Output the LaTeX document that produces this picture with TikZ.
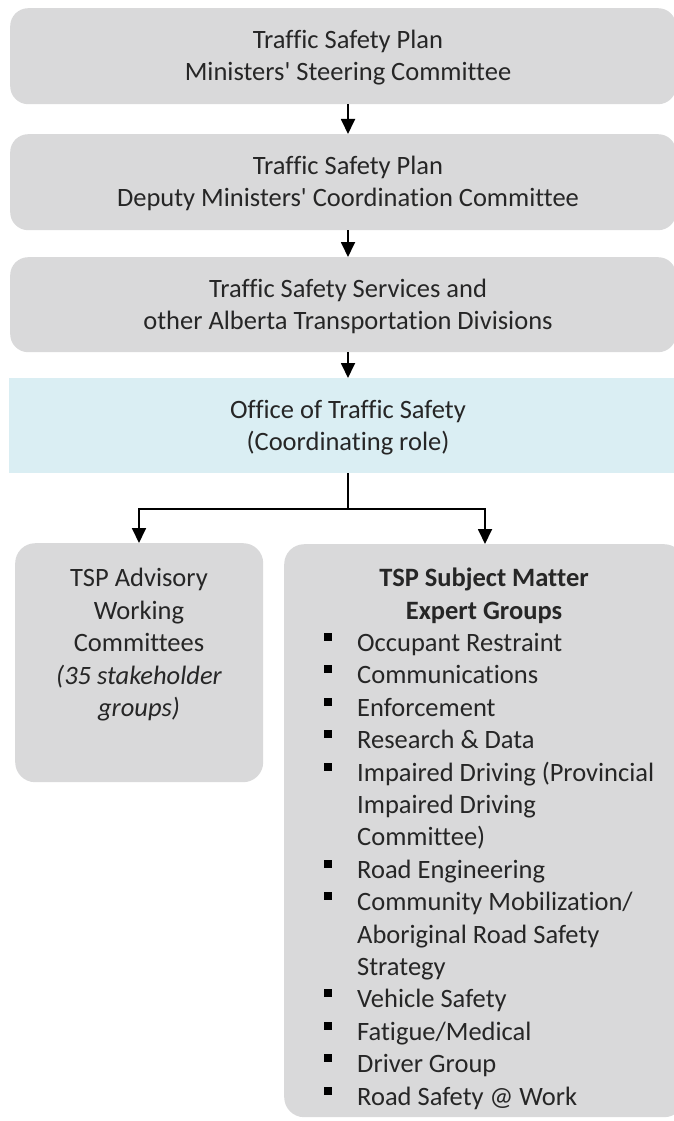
\documentclass[tikz,border=0pt]{standalone}
\usepackage{fontspec}
\defaultfontfeatures{}
\defaultfontfeatures[\rmfamily]{}
\setmainfont{Carlito}[Ligatures=NoCommon]
\usetikzlibrary{arrows.meta}
\definecolor{boxgray}{HTML}{D9D9DA}
\definecolor{boxblue}{HTML}{DAEEF3}
\definecolor{ink}{HTML}{262626}
\begin{document}
\begin{tikzpicture}[x=1pt,y=-1pt,
  graybox/.style={fill=boxgray, draw=none, rounded corners=18pt, inner sep=0pt, anchor=north west},
  bluebox/.style={fill=boxblue, draw=none, inner sep=0pt, anchor=north west},
  lbl/.style={anchor=base, inner sep=0pt, text=ink, font=\fontsize{26.5pt}{32.4pt}\selectfont},
  item/.style={lbl, anchor=base west},
  arr/.style={draw=black, line width=1.8pt, line join=miter, -{Triangle[length=15pt,width=14pt]}},
  conn/.style={draw=black, line width=1.8pt}]
\useasboundingbox (0,0) rectangle (674,1121);
\clip (0,0) rectangle (674,1121);

% boxes
\node[graybox, minimum width=666pt, minimum height=96pt] (b1) at (10,8) {};
\node[graybox, minimum width=666pt, minimum height=96pt] (b2) at (10,134) {};
\node[graybox, minimum width=666pt, minimum height=95pt] (b3) at (10,257) {};
\node[bluebox, minimum width=668pt, minimum height=95pt] (b4) at (9,378) {};
\node[graybox, rounded corners=20pt, minimum width=248pt, minimum height=239pt] (lb) at (15,543) {};
\node[graybox, rounded corners=20pt, minimum width=400pt, minimum height=573pt] (rb) at (284,544) {};

% top texts
\node[lbl] (t1a) at (348,48.5) {Traffic Safety Plan};
\node[lbl] (t1b) at (348,80.5) {Ministers\textquotesingle{} Steering Committee};
\node[lbl] (t2a) at (348,174) {Traffic Safety Plan};
\node[lbl] (t2b) at (348,206) {Deputy Ministers\textquotesingle{} Coordination Committee};
\node[lbl] (t3a) at (348,297) {Traffic Safety Services and};
\node[lbl] (t3b) at (348,329) {other Alberta Transportation Divisions};
\node[lbl] (t4a) at (348,418) {Office of Traffic Safety};
\node[lbl] (t4b) at (348,450) {(Coordinating role)};

% left box text
\node[lbl] (l1) at (139,586.5) {TSP Advisory};
\node[lbl] (l2) at (139,619) {Working};
\node[lbl] (l3) at (139,651.5) {Committees};
\node[lbl, font=\fontsize{26.5pt}{32.4pt}\selectfont\itshape] (l4) at (139,684) {(35 stakeholder};
\node[lbl, font=\fontsize{26.5pt}{32.4pt}\selectfont\itshape] (l5) at (139,716) {groups)};

% right box text
\node[lbl, font=\fontsize{26.5pt}{32.4pt}\selectfont\bfseries] (r1) at (484,586.5) {TSP Subject Matter};
\node[lbl, font=\fontsize{26.5pt}{32.4pt}\selectfont\bfseries] (r2) at (484,619) {Expert Groups};

\node[item] (i0) at (357,651.5) {Occupant Restraint};
\node[item] (i1) at (357,683.9) {Communications};
\node[item] (i2) at (357,716.3) {Enforcement};
\node[item] (i3) at (357,748.7) {Research \& Data};
\node[item] (i4) at (357,781.1) {Impaired Driving (Provincial};
\node[item] (i5) at (357,813.5) {Impaired Driving};
\node[item] (i6) at (357,845.9) {Committee)};
\node[item] (i7) at (357,878.3) {Road Engineering};
\node[item] (i8) at (357,910.7) {Community Mobilization/};
\node[item] (i9) at (357,943.1) {Aboriginal Road Safety};
\node[item] (i10) at (357,975.5) {Strategy};
\node[item] (i11) at (357,1007.9) {Vehicle Safety};
\node[item] (i12) at (357,1040.3) {Fatigue/Medical};
\node[item] (i13) at (357,1072.7) {Driver Group};
\node[item] (i14) at (357,1105.1) {Road Safety @ Work};

% bullets
\foreach \n in {i0,i1,i2,i3,i4,i7,i8,i11,i12,i13,i14}{
  \fill[black] ([xshift=-33.5pt,yshift=10.5pt]\n.base west) rectangle ++(8,-8);
}

% connectors
\coordinate (cx) at (348,0);
\draw[arr] (b1.south -| cx) -- (b2.north -| cx);
\draw[arr] (b2.south -| cx) -- (b3.north -| cx);
\draw[arr] (b3.south -| cx) -- (b4.north -| cx);
\coordinate (jn) at (348,509);
\coordinate (jl) at (139,509);
\coordinate (jr) at (485,509);
\draw[conn] (b4.south -| jn) -- (jn);
\draw[arr] (jn) -- (jl) -- (lb.north -| jl);
\draw[arr] (jn) -- (jr) -- (rb.north -| jr);
\end{tikzpicture}
\end{document}
